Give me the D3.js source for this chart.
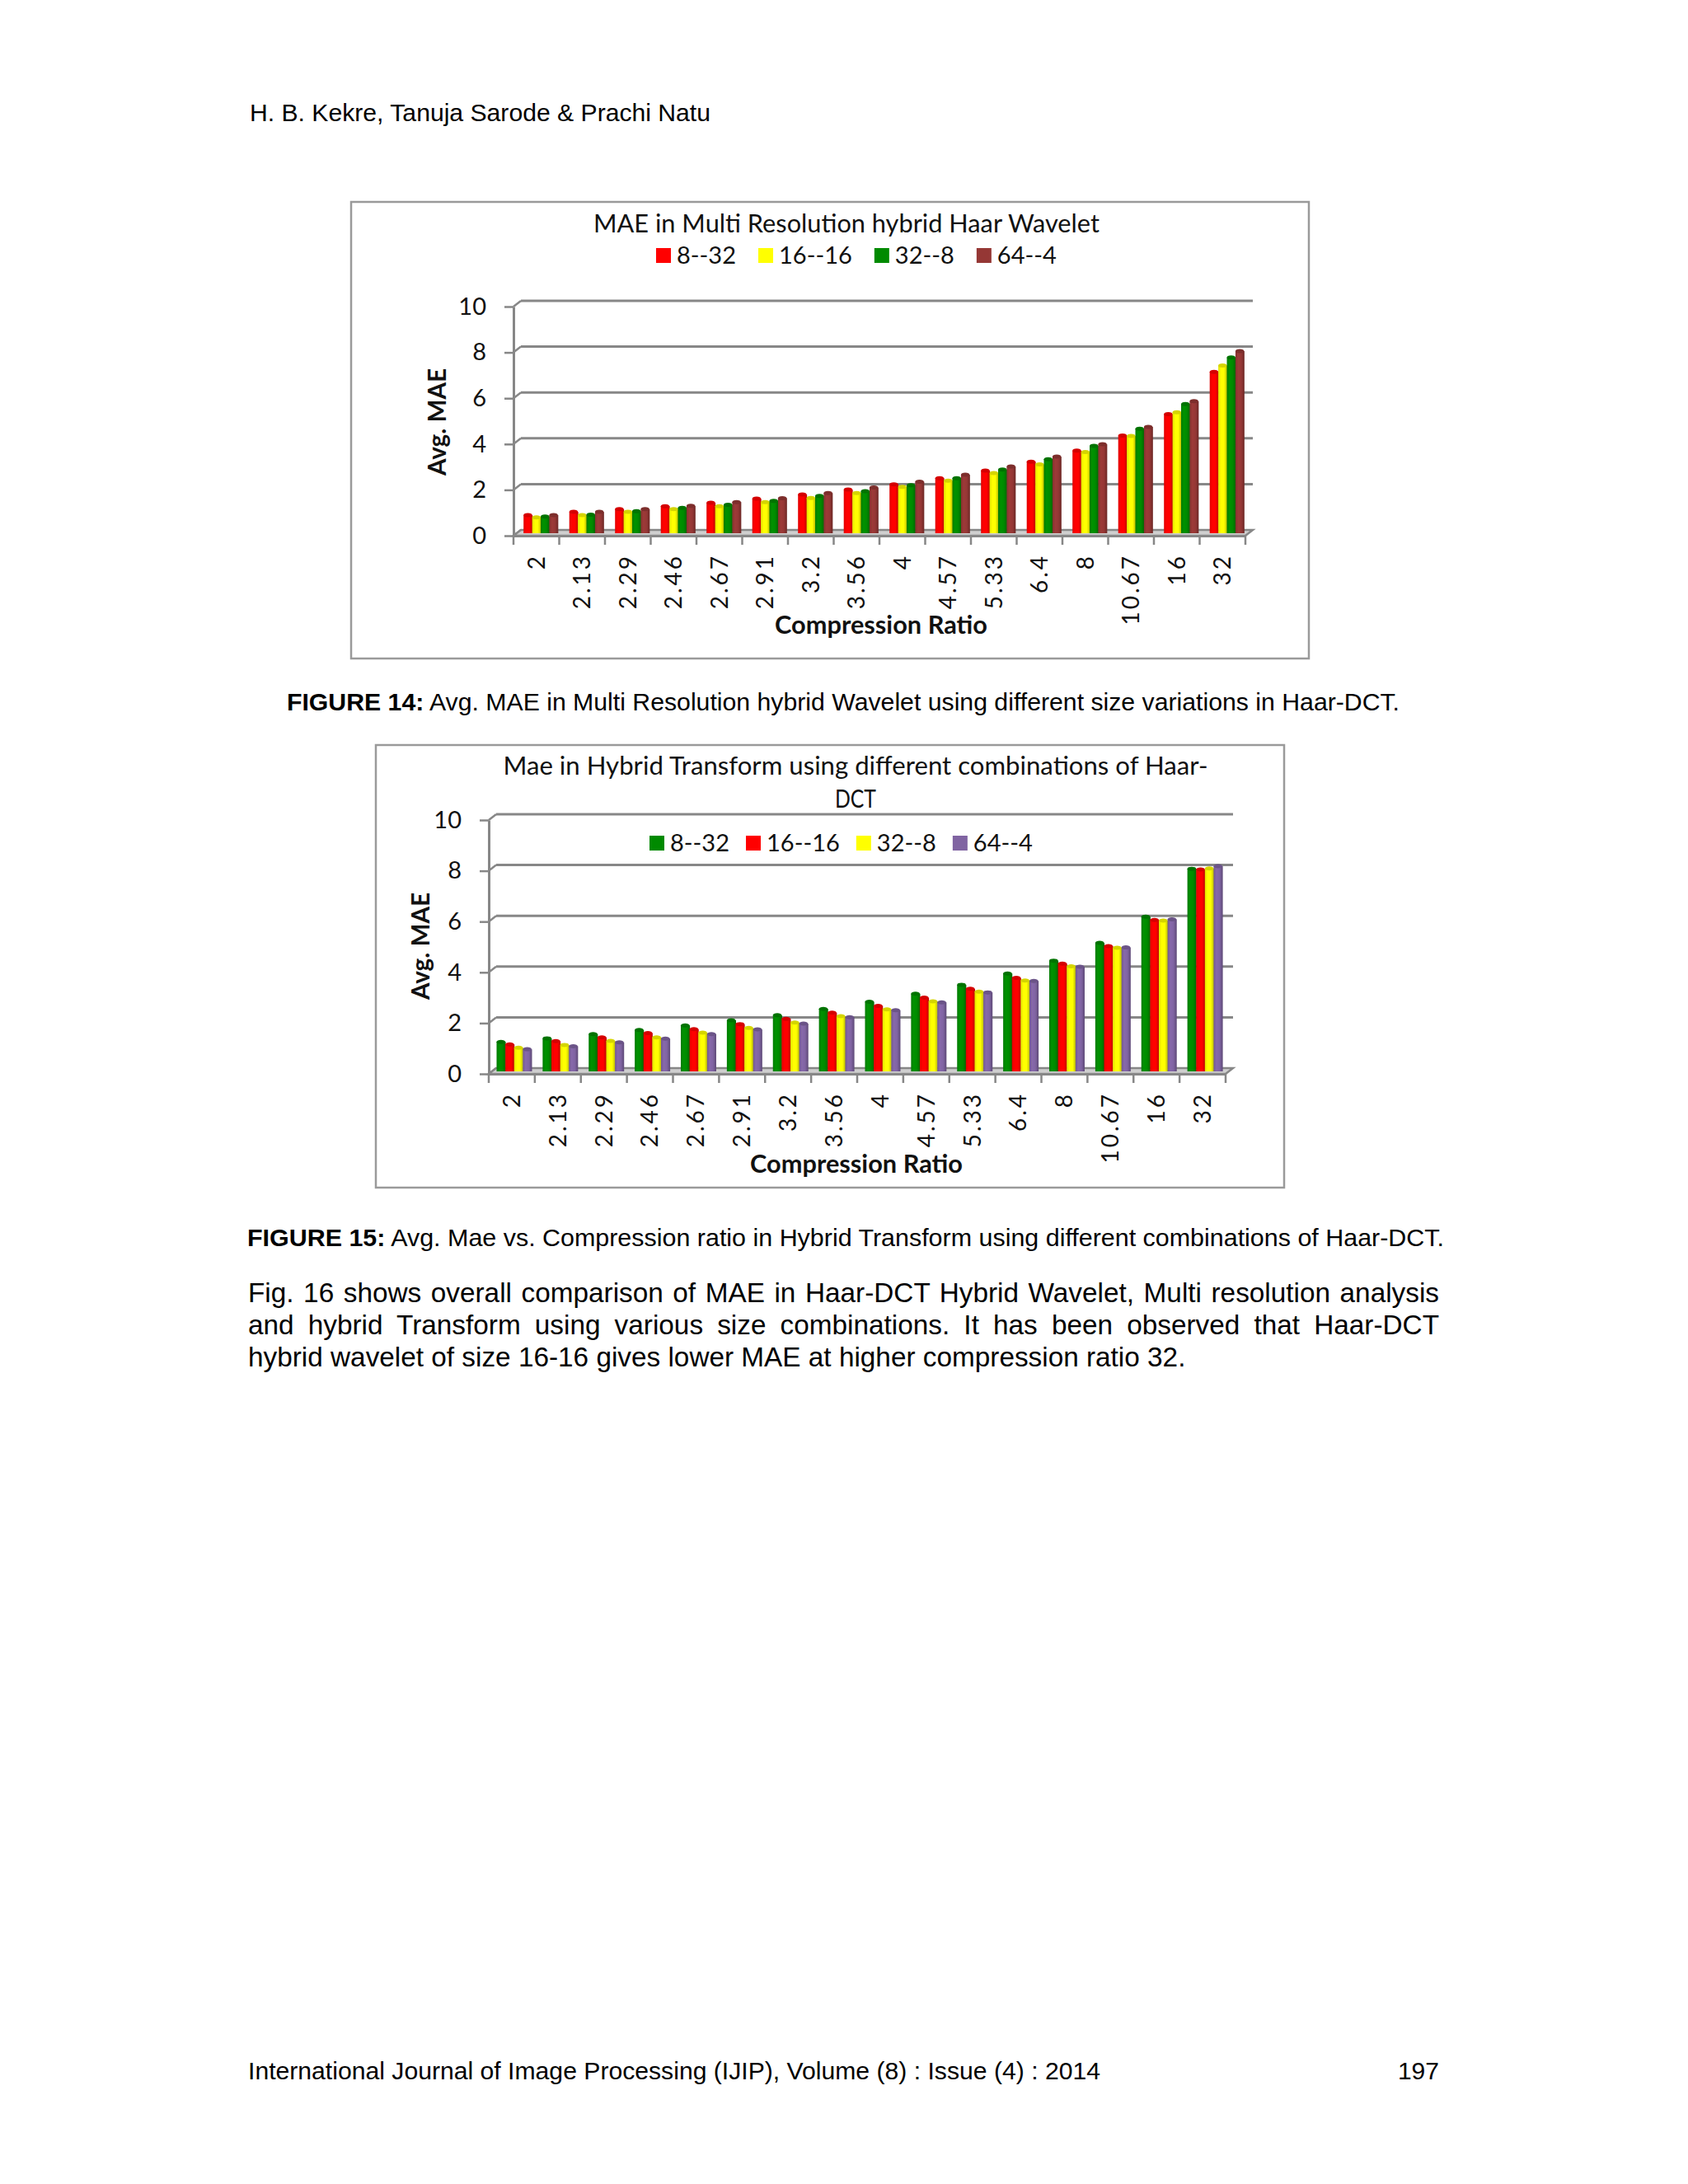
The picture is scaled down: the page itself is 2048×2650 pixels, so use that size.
<!DOCTYPE html>
<html>
<head>
<meta charset="utf-8">
<script src="https://cdn.jsdelivr.net/npm/d3@7"></script>
<style>
  body { margin: 0; background: #fff; }
  svg { display: block; }
</style>
</head>
<body>
<div id="page"></div>
<script>
// compression ratios on the x axis (same for both figures)
const ratios = ["2", "2.13", "2.29", "2.46", "2.67", "2.91", "3.2", "3.56", "4", "4.57", "5.33", "6.4", "8", "10.67", "16", "32"];
const seriesNames = ["8--32", "16--16", "32--8", "64--4"];
const yTicks = [0, 2, 4, 6, 8, 10];

// figure 14 - multi resolution hybrid haar wavelet
const mr_8_32  = [0.90, 1.04, 1.16, 1.29, 1.44, 1.62, 1.80, 2.01, 2.24, 2.51, 2.84, 3.23, 3.71, 4.37, 5.31, 7.15];
const mr_16_16 = [0.80, 0.90, 1.04, 1.16, 1.29, 1.47, 1.65, 1.86, 2.13, 2.40, 2.73, 3.11, 3.65, 4.35, 5.39, 7.43];
const mr_32_8  = [0.84, 0.92, 1.07, 1.21, 1.35, 1.52, 1.74, 1.94, 2.20, 2.51, 2.89, 3.34, 3.92, 4.67, 5.75, 7.78];
const mr_64_4  = [0.90, 1.04, 1.16, 1.30, 1.47, 1.64, 1.86, 2.10, 2.36, 2.66, 3.02, 3.45, 3.99, 4.75, 5.87, 8.06];

// figure 15 - hybrid transform
const ht_8_32  = [1.26, 1.40, 1.57, 1.73, 1.91, 2.11, 2.31, 2.56, 2.84, 3.16, 3.51, 3.95, 4.46, 5.16, 6.19, 8.08];
const ht_16_16 = [1.16, 1.29, 1.44, 1.61, 1.76, 1.96, 2.17, 2.41, 2.68, 3.00, 3.35, 3.78, 4.34, 5.03, 6.06, 8.05];
const ht_32_8  = [1.03, 1.14, 1.30, 1.44, 1.62, 1.81, 2.02, 2.27, 2.54, 2.86, 3.24, 3.68, 4.24, 4.97, 6.04, 8.09];
const ht_64_4  = [0.97, 1.09, 1.24, 1.39, 1.57, 1.75, 1.98, 2.23, 2.51, 2.82, 3.21, 3.66, 4.22, 4.98, 6.09, 8.18];

const colors14 = ["#ff0000", "#ffff00", "#008a00", "#953735"];
const colors15 = ["#008a00", "#ff0000", "#ffff00", "#8064a2"];

const paragraph = [
  "Fig. 16 shows overall comparison of MAE in Haar-DCT Hybrid Wavelet, Multi resolution analysis",
  "and hybrid Transform using various size combinations. It has been observed that Haar-DCT",
  "hybrid wavelet of size 16-16 gives lower MAE at higher compression ratio 32."
];

const chartFont = "Lato, 'Open Sans', sans-serif";
const pageFont = "'Liberation Sans', Arial, sans-serif";
const gridColor = "#878787";

var svg = d3.select("#page").append("svg")
  .attr("width", 2048)
  .attr("height", 2650);

svg.append("rect").attr("width", 2048).attr("height", 2650).attr("fill", "#fff");
var defs = svg.append("defs");

// one horizontal gradient per colour so the bars look like the excel cylinders
function barGradient(color) {
  var id = "g" + color.replace("#", "");
  if (!defs.select("#" + id).empty()) return id;
  var c = d3.color(color);
  var g = defs.append("linearGradient").attr("id", id)
    .attr("x1", "0%").attr("x2", "100%").attr("y1", "0%").attr("y2", "0%");
  g.append("stop").attr("offset", "0%").attr("stop-color", c.darker(0.35));
  g.append("stop").attr("offset", "30%").attr("stop-color", c.brighter(0.15));
  g.append("stop").attr("offset", "65%").attr("stop-color", c);
  g.append("stop").attr("offset", "100%").attr("stop-color", c.darker(0.9));
  return id;
}

function drawChart(cfg) {
  var g = svg.append("g");
  var dx = cfg.dx, dy = cfg.dy;

  // outer frame
  g.append("rect")
    .attr("x", cfg.frame[0]).attr("y", cfg.frame[1])
    .attr("width", cfg.frame[2]).attr("height", cfg.frame[3])
    .attr("fill", "#fff").attr("stroke", "#9a9a9a").attr("stroke-width", 2.5);

  var x = d3.scaleBand().domain(ratios).range([cfg.x0, cfg.x1]);
  var y = d3.scaleLinear().domain([0, 10]).range([cfg.y0, cfg.yTop]);
  var bw = x.bandwidth();
  var inner = d3.scaleBand().domain(seriesNames).range([bw * cfg.inner[0], bw * cfg.inner[1]]);

  // back wall gridlines + the little diagonals from the front axis
  var grid = g.append("g");
  grid.selectAll("line.grid")
    .data(yTicks.filter(d => d > 0))
    .enter().append("line")
    .attr("x1", cfg.x0 + dx).attr("x2", cfg.x1 + dx)
    .attr("y1", d => y(d) - dy).attr("y2", d => y(d) - dy)
    .attr("stroke", gridColor).attr("stroke-width", 3);
  grid.selectAll("line.diag")
    .data(yTicks)
    .enter().append("line")
    .attr("x1", cfg.x0).attr("x2", cfg.x0 + dx)
    .attr("y1", d => y(d)).attr("y2", d => y(d) - dy)
    .attr("stroke", gridColor).attr("stroke-width", 2.5);

  // floor
  g.append("polygon")
    .attr("points", [[cfg.x0, y(0)], [cfg.x1, y(0)], [cfg.x1 + dx, y(0) - dy], [cfg.x0 + dx, y(0) - dy]].join(" "))
    .attr("fill", "#cfcfcf").attr("stroke", gridColor).attr("stroke-width", 2.5);

  // legend (figure 15 has it inside the plot)
  var lg = g.append("g").attr("transform", "translate(" + cfg.legendX + "," + cfg.legendY + ")");
  var lx = 0;
  seriesNames.forEach((name, i) => {
    lg.append("rect").attr("x", lx).attr("y", -9).attr("width", 18).attr("height", 18).attr("fill", cfg.colors[i]);
    var t = lg.append("text").attr("x", lx + 25).attr("y", 10)
      .attr("font-family", chartFont).attr("font-size", 29).attr("fill", "#111")
      .text(name);
    lx += 25 + t.node().getComputedTextLength() + cfg.legendGap;
  });

  // bars
  cfg.series.forEach((vals, si) => {
    var fill = "url(#" + barGradient(cfg.colors[si]) + ")";
    var bars = g.append("g");
    bars.selectAll("rect")
      .data(vals)
      .enter().append("rect")
      .attr("x", (d, i) => x(ratios[i]) + inner(seriesNames[si]))
      .attr("y", d => y(d))
      .attr("width", inner.bandwidth() + 0.5)
      .attr("height", d => y(0) - 3 - y(d))
      .attr("fill", fill);
    bars.selectAll("ellipse")
      .data(vals)
      .enter().append("ellipse")
      .attr("cx", (d, i) => x(ratios[i]) + inner(seriesNames[si]) + inner.bandwidth() / 2)
      .attr("cy", d => y(d))
      .attr("rx", inner.bandwidth() / 2)
      .attr("ry", 2.5)
      .attr("fill", d3.color(cfg.colors[si]).darker(0.5));
  });

  // y axis
  var yAxis = g.append("g")
    .attr("transform", "translate(" + cfg.x0 + ",0)")
    .call(d3.axisLeft(y).tickValues(yTicks).tickSize(11).tickSizeOuter(0).tickPadding(22));
  yAxis.select(".domain").attr("stroke", gridColor).attr("stroke-width", 3);
  yAxis.selectAll(".tick line").attr("stroke", gridColor).attr("stroke-width", 2.5);
  yAxis.selectAll(".tick text")
    .attr("font-family", chartFont).attr("font-size", 29).attr("fill", "#111");

  // x axis: ticks between categories, rotated labels
  var xAxis = g.append("g")
    .attr("transform", "translate(0," + y(0) + ")")
    .call(d3.axisBottom(x).tickSize(0).tickPadding(0));
  xAxis.select(".domain").attr("stroke", gridColor).attr("stroke-width", 3);
  xAxis.selectAll(".tick text")
    .attr("font-family", chartFont).attr("font-size", 28).attr("fill", "#111")
    .attr("letter-spacing", 3)
    .attr("transform", "rotate(-90)")
    .attr("text-anchor", "end")
    .attr("dy", "0.35em")
    .attr("x", -22).attr("y", 0);
  xAxis.selectAll("line.sep")
    .data(ratios.map(r => x(r)).concat([cfg.x1]))
    .enter().append("line")
    .attr("class", "sep")
    .attr("x1", d => d).attr("x2", d => d)
    .attr("y1", 0).attr("y2", 11)
    .attr("stroke", gridColor).attr("stroke-width", 2.5);

  // titles
  cfg.title.forEach(t => {
    g.append("text")
      .attr("x", t.x).attr("y", t.y)
      .attr("text-anchor", "middle")
      .attr("font-family", chartFont).attr("font-size", 30).attr("fill", "#111")
      .attr("textLength", t.len).attr("lengthAdjust", "spacingAndGlyphs")
      .text(t.text);
  });

  g.append("text")
    .attr("x", cfg.xTitle[0]).attr("y", cfg.xTitle[1])
    .attr("text-anchor", "middle")
    .attr("font-family", chartFont).attr("font-size", 30).attr("font-weight", "bold").attr("fill", "#111")
    .attr("textLength", 258).attr("lengthAdjust", "spacingAndGlyphs")
    .text("Compression Ratio");

  g.append("text")
    .attr("transform", "translate(" + cfg.yTitle[0] + "," + cfg.yTitle[1] + ") rotate(-90)")
    .attr("text-anchor", "middle")
    .attr("dy", "0.35em")
    .attr("font-family", chartFont).attr("font-size", 31).attr("font-weight", "bold").attr("fill", "#111")
    .attr("textLength", 130).attr("lengthAdjust", "spacingAndGlyphs")
    .text("Avg. MAE");
}

drawChart({
  frame: [426, 245, 1162, 554],
  x0: 623, x1: 1511, y0: 650, yTop: 372, dx: 9, dy: 7,
  inner: [0.22, 0.97],
  series: [mr_8_32, mr_16_16, mr_32_8, mr_64_4],
  colors: colors14,
  legendX: 796, legendY: 310, legendGap: 27,
  title: [{ text: "MAE in Multi Resolution hybrid Haar Wavelet", x: 1027, y: 282, len: 614 }],
  xTitle: [1069, 769],
  yTitle: [530, 512]
});

drawChart({
  frame: [456, 904, 1102, 537],
  x0: 593, x1: 1487, y0: 1303, yTop: 995, dx: 9, dy: 7,
  inner: [0.17, 0.93],
  series: [ht_8_32, ht_16_16, ht_32_8, ht_64_4],
  colors: colors15,
  legendX: 788, legendY: 1023, legendGap: 20,
  title: [
    { text: "Mae in Hybrid Transform using different combinations of Haar-", x: 1038, y: 940, len: 855 },
    { text: "DCT", x: 1038, y: 980, len: 50 }
  ],
  xTitle: [1039, 1423],
  yTitle: [510, 1148]
});

// page text around the figures
function pageText(x, y, len, parts, anchor) {
  var t = svg.append("text")
    .attr("x", x).attr("y", y)
    .attr("font-family", pageFont).attr("font-size", 30).attr("fill", "#000")
    .attr("text-anchor", anchor || "start");
  if (len) t.attr("textLength", len).attr("lengthAdjust", "spacingAndGlyphs");
  parts.forEach(p => {
    t.append("tspan").attr("font-weight", p.bold ? "bold" : "normal").text(p.text);
  });
  return t;
}

pageText(303, 147, 559, [{ text: "H. B. Kekre, Tanuja Sarode & Prachi Natu" }]);

pageText(348, 862, 1350, [
  { text: "FIGURE 14:", bold: true },
  { text: " Avg. MAE in Multi Resolution hybrid Wavelet using different size variations in Haar-DCT." }
]);

pageText(300, 1512, 1452, [
  { text: "FIGURE 15:", bold: true },
  { text: " Avg. Mae vs. Compression ratio in Hybrid Transform using different combinations of Haar-DCT." }
]);

// justified paragraph: size the font from the last line, then stretch word gaps
var lastLine = pageText(301, 1658, null, [{ text: paragraph[2] }]);
var paraSize = 30 * 1138 / lastLine.node().getComputedTextLength();
lastLine.attr("font-size", paraSize);
[0, 1].forEach(i => {
  var t = pageText(301, 1580 + i * 39, null, [{ text: paragraph[i] }]).attr("font-size", paraSize);
  var natural = t.node().getComputedTextLength();
  var gaps = paragraph[i].split(" ").length - 1;
  t.attr("word-spacing", (1445 - natural) / gaps);
});

pageText(301, 2523, 1034, [{ text: "International Journal of Image Processing (IJIP), Volume (8) : Issue (4) : 2014" }]);
pageText(1746, 2523, null, [{ text: "197" }], "end");
</script>
</body>
</html>
